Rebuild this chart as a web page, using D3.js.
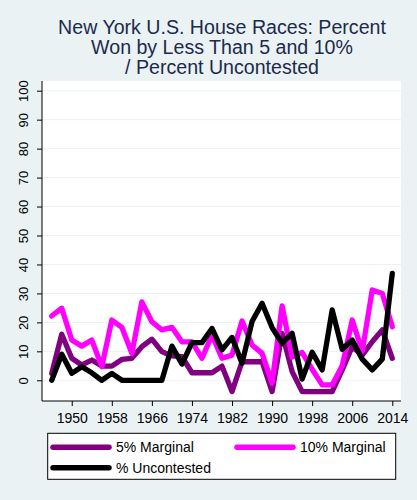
<!DOCTYPE html>
<html>
<head>
<meta charset="utf-8">
<script src="https://cdn.jsdelivr.net/npm/d3@7"></script>
<style>
  html, body { margin: 0; padding: 0; background: #eaf2f3; }
  svg { display: block; font-family: "Liberation Sans", Arial, sans-serif; }
</style>
</head>
<body>
<svg id="chart" width="417" height="500"></svg>
<script>
// election years (every two years)
const years = [1946, 1948, 1950, 1952, 1954, 1956, 1958, 1960, 1962, 1964, 1966, 1968,
  1970, 1972, 1974, 1976, 1978, 1980, 1982, 1984, 1986, 1988, 1990, 1992, 1994,
  1996, 1998, 2000, 2002, 2004, 2006, 2008, 2010, 2012, 2014];

// percent of races won by less than 5 points
const marginal5 = [2.4, 15.9, 7.6, 5.3, 7.0, 4.9, 4.9, 7.2, 7.6, 11.6, 14.2, 9.9,
  8.4, 8.2, 2.6, 2.6, 2.6, 4.9, -3.9, 6.4, 6.4, 6.4, -3.9, 16.2, 3.0,
  -3.9, -3.9, -3.9, -3.9, 3.6, 11.6, 8.7, 13.3, 17.4, 7.6];

// percent of races won by less than 10 points
const marginal10 = [22.2, 24.9, 13.9, 11.8, 13.9, 4.7, 20.8, 18.3, 9.3, 27.1, 20.2, 17.4,
  18.3, 13.3, 13.3, 7.6, 15.6, 7.6, 8.7, 20.5, 12.2, 9.3, -1.0, 25.7, 8.0,
  9.6, 3.8, -1.6, -1.6, 5.0, 20.8, 10.0, 31.2, 30.0, 18.5];

// percent of races uncontested
const uncontested = [0, 9.0, 2.4, 4.7, 2.6, 0, 2.4, 0, 0, 0, 0, 0,
  11.8, 5.6, 13.0, 13.0, 17.9, 10.5, 14.8, 5.9, 20.3, 26.6, 18.2, 12.8, 16.2,
  0.4, 9.7, 3.6, 24.3, 10.7, 13.9, 7.3, 3.6, 7.3, 36.9];

const yTicks = [0, 10, 20, 30, 40, 50, 60, 70, 80, 90, 100];
const xTicks = [1950, 1958, 1966, 1974, 1982, 1990, 1998, 2006, 2014];

const titleLines = ['New York U.S. House Races: Percent', 'Won by Less Than 5 and 10%', '/ Percent Uncontested'];

const series = [
  { name: '5% Marginal', values: marginal5, color: '#800080' },
  { name: '10% Marginal', values: marginal10, color: '#ff00ff' },
  { name: '% Uncontested', values: uncontested, color: '#000000' }
];

const svg = d3.select('#chart');
const plot = { left: 42, right: 401, top: 81, bottom: 401 };

svg.append('rect').attr('width', 417).attr('height', 500).attr('fill', '#eaf2f3');

const x = d3.scaleLinear().domain([1944.06, 2015.74]).range([plot.left, plot.right]);
const y = d3.scaleLinear().domain([-7.15, 103.35]).range([plot.bottom, plot.top]);

// plot area
svg.append('rect')
  .attr('x', plot.left).attr('y', plot.top)
  .attr('width', plot.right - plot.left).attr('height', plot.bottom - plot.top)
  .attr('fill', '#fff');

// gridlines
svg.append('g')
  .selectAll('line')
  .data(yTicks)
  .enter()
  .append('line')
  .attr('x1', plot.left).attr('x2', plot.right)
  .attr('y1', d => y(d)).attr('y2', d => y(d))
  .attr('stroke', '#eaf2f3').attr('stroke-width', 1);

// title
svg.append('text')
  .attr('text-anchor', 'middle')
  .attr('fill', '#1c2a4c')
  .attr('font-size', 19.6)
  .selectAll('tspan')
  .data(titleLines)
  .enter()
  .append('tspan')
  .attr('x', (plot.left + plot.right) / 2 + 0.5)
  .attr('y', (d, i) => 33.5 + i * 20.3)
  .text(d => d);

// series lines
const line = d3.line()
  .x((d, i) => x(years[i]))
  .y(d => y(d));

svg.append('g')
  .selectAll('path')
  .data(series)
  .enter()
  .append('path')
  .attr('d', d => line(d.values))
  .attr('fill', 'none')
  .attr('stroke', d => d.color)
  .attr('stroke-width', 5.3)
  .attr('stroke-linejoin', 'round')
  .attr('stroke-linecap', 'round');

// axes
const yAxis = svg.append('g')
  .attr('transform', `translate(${plot.left},0)`)
  .call(d3.axisLeft(y).tickValues(yTicks).tickSize(5).tickSizeOuter(0).tickPadding(0));
yAxis.select('.domain').attr('d', `M0,${plot.top}V${plot.bottom}`).attr('stroke', '#000');
yAxis.selectAll('.tick line').attr('stroke', '#000');
yAxis.selectAll('.tick text')
  .attr('font-size', 13)
  .attr('font-family', '"Liberation Sans", Arial, sans-serif')
  .attr('fill', '#000')
  .attr('text-anchor', 'middle')
  .attr('x', null).attr('dy', null)
  .attr('transform', 'translate(-14,0) rotate(-90)')
  .attr('y', 0);

const xAxis = svg.append('g')
  .attr('transform', `translate(0,${plot.bottom})`)
  .call(d3.axisBottom(x).tickValues(xTicks).tickFormat(d3.format('d')).tickSize(5).tickSizeOuter(0).tickPadding(7));
xAxis.select('.domain').attr('d', `M${plot.left},0H${plot.right}`).attr('stroke', '#000');
xAxis.selectAll('.tick line').attr('stroke', '#000');
xAxis.selectAll('.tick text')
  .attr('font-size', 14)
  .attr('font-family', '"Liberation Sans", Arial, sans-serif')
  .attr('fill', '#000');

// legend
const legend = svg.append('g');
legend.append('rect')
  .attr('x', 47.7).attr('y', 433.3)
  .attr('width', 348).attr('height', 46)
  .attr('fill', '#fff').attr('stroke', '#000').attr('stroke-width', 1);

const legendPos = [
  { x: 53, y: 447.3 },
  { x: 237, y: 447.3 },
  { x: 53, y: 467.7 }
];

const items = legend.selectAll('g.item')
  .data(series)
  .enter()
  .append('g')
  .attr('class', 'item')
  .attr('transform', (d, i) => `translate(${legendPos[i].x},${legendPos[i].y})`);

items.append('line')
  .attr('x1', 0).attr('x2', 56)
  .attr('y1', 0).attr('y2', 0)
  .attr('stroke', d => d.color)
  .attr('stroke-width', 5.5)
  .attr('stroke-linecap', 'round');

items.append('text')
  .attr('x', 63)
  .attr('y', 5)
  .attr('font-size', 14)
  .attr('fill', '#000')
  .text(d => d.name);
</script>
</body>
</html>
